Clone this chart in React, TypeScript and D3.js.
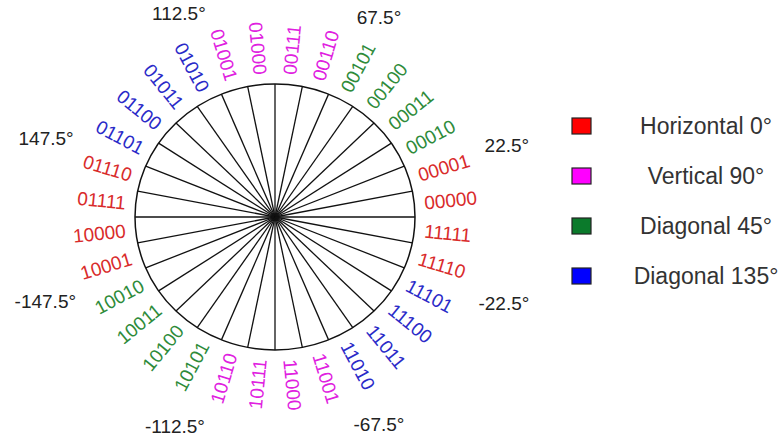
import React from "react";
import * as d3 from "d3";

// ---- data ----
const codes = [
  "00000", "00001", "00010", "00011", "00100", "00101", "00110", "00111",
  "01000", "01001", "01010", "01011", "01100", "01101", "01110", "01111",
  "10000", "10001", "10010", "10011", "10100", "10101", "10110", "10111",
  "11000", "11001", "11010", "11011", "11100", "11101", "11110", "11111",
];
const codeGroups = [
  "H", "H", "D45", "D45", "D45", "D45", "V", "V",
  "V", "V", "D135", "D135", "D135", "D135", "H", "H",
  "H", "H", "D45", "D45", "D45", "D45", "V", "V",
  "V", "V", "D135", "D135", "D135", "D135", "H", "H",
];
const legendKeys = ["H", "V", "D45", "D135"];
const legendLabels = ["Horizontal 0°", "Vertical 90°", "Diagonal 45°", "Diagonal 135°"];
const angleLabels = ["22.5°", "67.5°", "112.5°", "147.5°", "-147.5°", "-112.5°", "-67.5°", "-22.5°"];
const angleLabelPlacement = [19.5, 65, 113, 158.5, 201, 246, 295, 338.5];

const textColors: Record<string, string> = {
  H: "#d92b2b",
  V: "#e020e0",
  D45: "#2e8b3a",
  D135: "#2a2ac8",
};
const swatchColors: Record<string, string> = {
  H: "#ff0000",
  V: "#ff00ff",
  D45: "#0b7a2b",
  D135: "#0000ff",
};

const W = 781;
const H = 439;
const cx = 275;
const cy = 217;
const rx = 140;
const ry = 133;
const FONT = "'Liberation Sans', Arial, sans-serif";

export default function App() {
  const n = codes.length;
  const angle = d3.scaleLinear().domain([0, n]).range([0, 360]);
  const rad = (deg: number) => (deg * Math.PI) / 180;
  const pt = (deg: number, ax: number, ay: number, oy = 0) => [
    cx + ax * Math.cos(rad(deg)),
    cy + oy - ay * Math.sin(rad(deg)),
  ];

  const spokes = d3.range(n).map((k) => {
    const [x2, y2] = pt(angle(k), rx, ry);
    return <line key={k} x1={cx} y1={cy} x2={x2} y2={y2} stroke="#111" strokeWidth={1.3} />;
  });

  const labels = codes.map((c, i) => {
    const phi = angle(i + 0.5);
    const [x, y] = pt(phi, rx + 10, ry + 10);
    const right = phi < 90 || phi > 270;
    const rot = right ? -phi : -(phi - 180);
    return (
      <text
        key={c}
        transform={`translate(${x},${y}) rotate(${rot})`}
        textAnchor={right ? "start" : "end"}
        dominantBaseline="central"
        fill={textColors[codeGroups[i]]}
        fontSize={19}
        fontFamily={FONT}
      >
        {c}
      </text>
    );
  });

  const annots = angleLabels.map((t, i) => {
    const [x, y] = pt(angleLabelPlacement[i], 246, 225, 4);
    return (
      <text
        key={t}
        x={x}
        y={y}
        textAnchor="middle"
        dominantBaseline="central"
        fill="#222"
        fontSize={19}
        fontFamily={FONT}
      >
        {t}
      </text>
    );
  });

  const legendY = d3.scalePoint<string>().domain(legendKeys).range([126, 276]);
  const legend = legendKeys.map((k, i) => {
    const y = legendY(k) as number;
    return (
      <g key={k}>
        <rect x={572} y={y - 8} width={19} height={16} fill={swatchColors[k]} stroke="#222" strokeWidth={1.2} />
        <text x={706} y={y} textAnchor="middle" dominantBaseline="central" fill="#333" fontSize={23} fontFamily={FONT}>
          {legendLabels[i]}
        </text>
      </g>
    );
  });

  return (
    <svg width={W} height={H} style={{ position: "absolute", left: 0, top: 0, background: "#fff" }}>
      <rect width={W} height={H} fill="#fff" />
      {spokes}
      <ellipse cx={cx} cy={cy} rx={rx} ry={ry} fill="none" stroke="#111" strokeWidth={1.5} />
      {labels}
      {annots}
      {legend}
    </svg>
  );
}
